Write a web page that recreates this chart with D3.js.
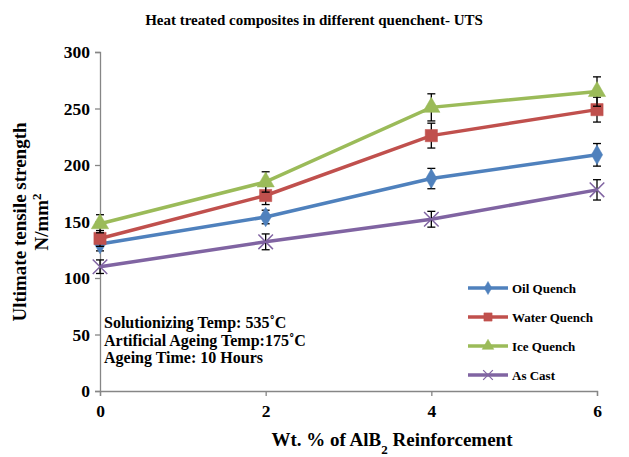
<!DOCTYPE html>
<html>
<head>
<script src="https://d3js.org/d3.v7.min.js"></script>
<style>
  body { margin: 0; background: #fff; }
  text { font-family: "Liberation Serif", "Times New Roman", serif; font-weight: bold; }
</style>
</head>
<body>
<svg width="629" height="457"></svg>
<script>
// data
const wt = [0, 2, 4, 6];
const seriesNames = ['Oil Quench', 'Water Quench', 'Ice Quench', 'As Cast'];
const oil = [130, 154, 188, 209];
const water = [135, 173, 226, 249];
const ice = [148, 185, 251, 265];
const asCast = [110, 132, 152, 178];
const oilErr = [6, 6, 9, 10];
const waterErr = [7, 8, 11, 11];
const iceErr = [8, 9, 12, 13];
const asCastErr = [6, 7, 7, 9];
const yTicks = [0, 50, 100, 150, 200, 250, 300];
const notes = ['Solutionizing Temp: 535\u02DAC', 'Artificial Ageing Temp:175\u02DAC', 'Ageing Time: 10 Hours'];

const colors = ['#4F81BD', '#C0504D', '#9BBB59', '#8064A2'];
const symbols = [d3.symbolDiamond, d3.symbolSquare, d3.symbolTriangle, d3.symbolX];
const symSize = [110, 150, 130, 140];
const values = [oil, water, ice, asCast];
const errs = [oilErr, waterErr, iceErr, asCastErr];

const svg = d3.select('svg');
const x = d3.scaleLinear().domain([0, 6]).range([100, 597]);
const y = d3.scaleLinear().domain([0, 300]).range([391, 52]);

// axes
const yAxis = svg.append('g').attr('transform', 'translate(100,0)')
  .call(d3.axisLeft(y).tickValues(yTicks).tickSize(5).tickPadding(5));
const xAxis = svg.append('g').attr('transform', 'translate(0,391)')
  .call(d3.axisBottom(x).tickValues(wt).tickFormat(d3.format('d')).tickSize(5).tickPadding(6));
[yAxis, xAxis].forEach(a => {
  a.selectAll('path, line').attr('stroke', '#868686').attr('stroke-width', 1.3);
  a.selectAll('text').attr('fill', '#000').style('font-size', '17.5px')
    .style('font-family', '"Liberation Serif", serif').style('font-weight', 'bold');
});
xAxis.selectAll('text').attr('dy', '0.85em');

// series
const line = d3.line().x((d, i) => x(wt[i])).y(d => y(d));
values.forEach((vals, s) => {
  const g = svg.append('g');
  g.append('path').datum(vals)
    .attr('d', line).attr('fill', 'none')
    .attr('stroke', colors[s]).attr('stroke-width', 3.5);
  // error bars
  vals.forEach((v, i) => {
    const e = errs[s][i], cx = x(wt[i]);
    g.append('line').attr('x1', cx).attr('x2', cx)
      .attr('y1', y(v - e)).attr('y2', y(v + e))
      .attr('stroke', '#000').attr('stroke-width', 1.3);
    [v - e, v + e].forEach(t => {
      g.append('line').attr('x1', cx - 4).attr('x2', cx + 4)
        .attr('y1', y(t)).attr('y2', y(t))
        .attr('stroke', '#000').attr('stroke-width', 1.3);
    });
  });
  g.selectAll('.m').data(vals).enter().append('path')
    .attr('transform', (d, i) => `translate(${x(wt[i])},${y(d)})`)
    .attr('d', d3.symbol().type(symbols[s]).size(symSize[s]))
    .attr('fill', s === 3 ? 'none' : colors[s])
    .attr('stroke', colors[s])
    .attr('stroke-width', s === 3 ? 1.5 : 0.5);
});

// legend
seriesNames.forEach((n, s) => {
  const ly = 288 + s * 29;
  const lg = svg.append('g');
  lg.append('line').attr('x1', 468).attr('x2', 508).attr('y1', ly).attr('y2', ly)
    .attr('stroke', colors[s]).attr('stroke-width', 3.5);
  lg.append('path').attr('transform', `translate(488,${ly})`)
    .attr('d', d3.symbol().type(symbols[s]).size(symSize[s] * 0.45))
    .attr('fill', s === 3 ? 'none' : colors[s]).attr('stroke', colors[s])
    .attr('stroke-width', s === 3 ? 1.2 : 0.5);
  lg.append('text').attr('x', 512).attr('y', ly + 4.5).style('font-size', '13px').text(n);
});

// annotation
svg.append('g').selectAll('text').data(notes).enter().append('text')
  .attr('x', 104).attr('y', (d, i) => 328 + i * 17.5)
  .style('font-size', '16px').text(d => d);

// title
svg.append('text').attr('x', 314).attr('y', 25).attr('text-anchor', 'middle')
  .style('font-size', '15px').text('Heat treated composites in different quenchent- UTS');

// axis titles
const xl = svg.append('text').attr('x', 392).attr('y', 446).attr('text-anchor', 'middle')
  .style('font-size', '19px');
xl.append('tspan').text('Wt. % of AlB');
xl.append('tspan').attr('baseline-shift', 'sub').style('font-size', '13px').text('2');
xl.append('tspan').text(' Reinforcement');

const yl = svg.append('text').attr('transform', 'translate(0,222) rotate(-90)')
  .attr('text-anchor', 'middle').style('font-size', '19px');
yl.append('tspan').attr('x', 0).attr('y', 26).text('Ultimate tensile  strength');
yl.append('tspan').attr('x', 0).attr('y', 48).text('N/mm');
yl.append('tspan').attr('baseline-shift', 'super').style('font-size', '13px').text('2');
</script>
</body>
</html>
